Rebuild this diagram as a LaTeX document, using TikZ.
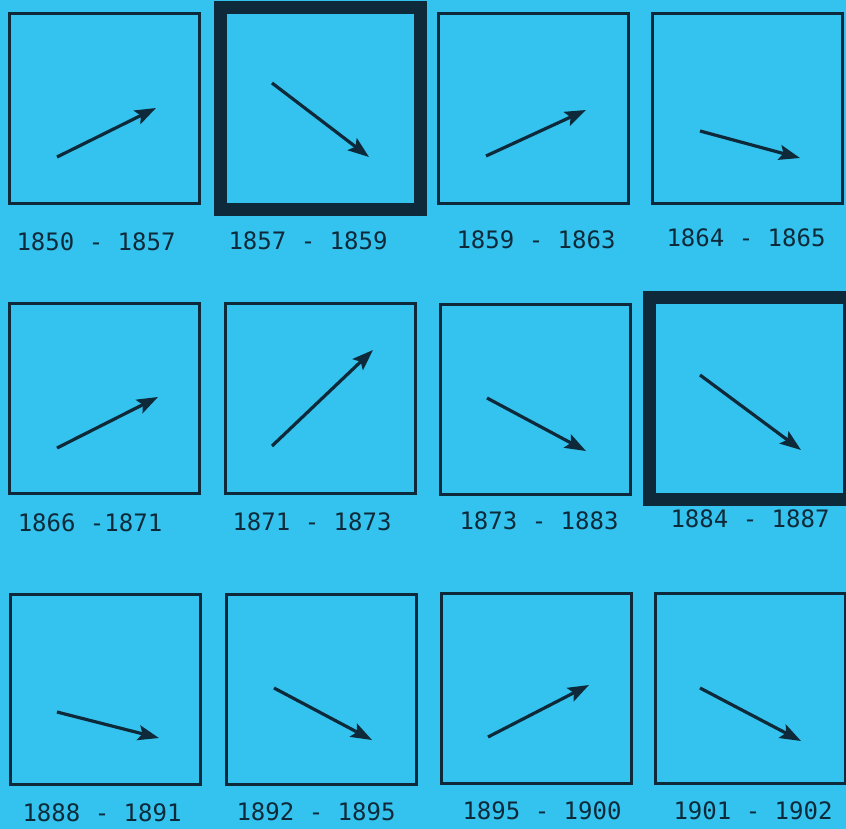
\documentclass[tikz,border=0pt]{standalone}
\usepackage{fontspec}
\newfontfamily\yearfont{DejaVu Sans Mono}
\usepackage{tikz}
\usetikzlibrary{arrows.meta,positioning}
\definecolor{scanbg}{HTML}{33C3EE}
\definecolor{ink}{HTML}{0E2A3A}

\begin{document}
\begin{tikzpicture}[
  x=1pt, y=-1pt,
  panel/.style={draw=ink, line width=3pt, minimum width=190pt,
                minimum height=190pt, inner sep=0pt, outer sep=0pt},
  heavy/.style={panel, line width=13pt, minimum width=200pt,
                minimum height=202pt},
  yr/.style={text=ink, font=\yearfont\fontsize{24}{24}\selectfont,
             inner sep=0pt},
  vec/.style={-{Stealth[length=21pt, width=15pt, inset=4pt]},
              line width=3.2pt, ink},
]
  \useasboundingbox (0,0) rectangle (846,829);
  \fill[scanbg] (0,0) rectangle (846,829);

  % first row
  \node[panel] (b1) at (104,108.5) {};
  \node[heavy] (b2) at (320,109) {};
  \node[panel] (b3) at (533,108.5) {};
  \node[panel] (b4) at (747,108.5) {};
  \node[yr] (l1) at (96,242) {1850 - 1857};
  \node[yr] (l2) at (308,241) {1857 - 1859};
  \node[yr] (l3) at (536,240) {1859 - 1863};
  \node[yr] (l4) at (746,238) {1864 - 1865};

  % second row
  \node[panel] (b5) at (104,398.5) {};
  \node[panel] (b6) at (320,398.5) {};
  \node[panel] (b7) at (535,399) {};
  \node[heavy] (b8) at (749,398) {};
  \node[yr] (l5) at (90,523) {1866 -1871};
  \node[yr] (l6) at (312,522) {1871 - 1873};
  \node[yr] (l7) at (539,521) {1873 - 1883};
  \node[yr] (l8) at (750,519) {1884 - 1887};

  % third row
  \node[panel] (b9) at (105,689) {};
  \node[panel] (b10) at (321.5,689) {};
  \node[panel] (b11) at (536.5,688) {};
  \node[panel] (b12) at (750,688) {};
  \node[yr] (l9) at (102,813) {1888 - 1891};
  \node[yr] (l10) at (316,812) {1892 - 1895};
  \node[yr] (l11) at (542,811) {1895 - 1900};
  \node[yr] (l12) at (753,811) {1901 - 1902};

  % vector ends
  \coordinate (t1) at (57,157);   \coordinate (h1) at (156,108);
  \coordinate (t2) at (272,83);   \coordinate (h2) at (369,157);
  \coordinate (t3) at (486,156);  \coordinate (h3) at (586,110);
  \coordinate (t4) at (700,131);  \coordinate (h4) at (800,158);
  \coordinate (t5) at (57,448);   \coordinate (h5) at (158,397);
  \coordinate (t6) at (272,446);  \coordinate (h6) at (373,350);
  \coordinate (t7) at (487,398);  \coordinate (h7) at (586,451);
  \coordinate (t8) at (700,375);  \coordinate (h8) at (801,450);
  \coordinate (t9) at (57,712);   \coordinate (h9) at (159,738);
  \coordinate (t10) at (274,688); \coordinate (h10) at (372,740);
  \coordinate (t11) at (488,737); \coordinate (h11) at (589,685);
  \coordinate (t12) at (700,688); \coordinate (h12) at (801,741);

  \draw[vec] (t1) -- (h1);
  \draw[vec] (t2) -- (h2);
  \draw[vec] (t3) -- (h3);
  \draw[vec] (t4) -- (h4);
  \draw[vec] (t5) -- (h5);
  \draw[vec] (t6) -- (h6);
  \draw[vec] (t7) -- (h7);
  \draw[vec] (t8) -- (h8);
  \draw[vec] (t9) -- (h9);
  \draw[vec] (t10) -- (h10);
  \draw[vec] (t11) -- (h11);
  \draw[vec] (t12) -- (h12);
\end{tikzpicture}
\end{document}
